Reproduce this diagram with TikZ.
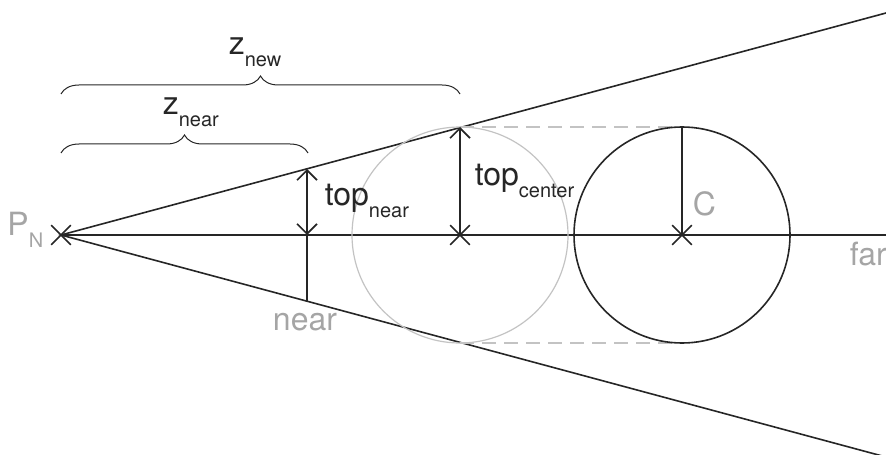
\documentclass[tikz,border=0pt]{standalone}
\usepackage{fontspec}
\setmainfont{TeX Gyre Heros}
\usetikzlibrary{arrows.meta,shapes.misc,decorations.pathreplacing}
\definecolor{labelgrey}{RGB}{165,165,165}
\definecolor{circgrey}{RGB}{195,195,195}
\newcommand{\lowsub}[1]{\raisebox{-6pt}{\fontsize{10}{12}\selectfont #1}}
\tikzset{
  crossmark/.style={cross out,draw,minimum size=9pt,inner sep=0pt},
  lbl/.style={font=\fontsize{16}{18}\selectfont,inner sep=0pt,text=black!85},
  greylbl/.style={lbl,text=labelgrey},
  dim/.style={{Straight Barb[length=5pt,width=10pt]}-{Straight Barb[length=5pt,width=10pt]}},
  dimtip/.style={-{Straight Barb[length=5pt,width=10pt]}},
  bracket/.style={decorate,decoration={brace,amplitude=9pt},line width=0.5pt},
  dashline/.style={circgrey,dash pattern=on 7pt off 4pt}
}

\begin{document}
\begin{tikzpicture}[x=0.5pt,y=-0.5pt,line width=0.8pt,black!85]
    \def\r{108}
    \useasboundingbox (0,0) rectangle (886,454);
    % points on the axis
    \node[crossmark] (P) at (61,235) {};
    \node[crossmark] (M) at (460,235) {};
    \node[crossmark] (C) at (682,235) {};
    \coordinate (far) at (886,235);
    \coordinate (upend) at (886,13);
    \coordinate (lowend) at (886,457);
    \coordinate (ntop) at (307,169);
    \coordinate (nax) at (307,235);
    \coordinate (nbot) at (307,301);
    \coordinate (mtop) at (460,127);
    \coordinate (ctop) at (682,127);
    \coordinate (mbot) at (460,343);
    \coordinate (cbot) at (682,343);
    % frustum and axis
    \draw (upend) -- (P.center) -- (lowend);
    \draw (P.center) -- (far);
    % spheres
    \draw[circgrey,line width=0.6pt] (M.center) circle (\r);
    \draw[dashline] (mtop) -- (ctop) (mbot) -- (cbot);
    \draw (C.center) circle (\r);
    \draw (C.center) -- (ctop);
    % heights
    \draw[dim] (ntop) -- (nax);
    \draw (nax) -- (nbot);
    \draw[dimtip] (M.center) -- (mtop);
    % distances
    \draw[bracket] (61,153) -- (308,153);
    \draw[bracket] (61,94) -- (460,94);
    % labels
    \node[greylbl,anchor=base east] (pn) at (44,235) {P\lowsub{N}};
    \node[greylbl,anchor=base] (nearlbl) at (305,330) {near};
    \node[greylbl,anchor=base west] (farlbl) at (849,265) {far};
    \node[greylbl,anchor=base west] (clbl) at (692,215) {C};
    \node[lbl,anchor=base west] (topnear) at (324,205) {top\lowsub{near}};
    \node[lbl,anchor=base west] (topcenter) at (474,185) {top\lowsub{center}};
    \node[lbl,anchor=base west] (znear) at (162,115) {z\lowsub{near}};
    \node[lbl,anchor=base west] (znew) at (228,55) {z\lowsub{new}};
\end{tikzpicture}
\end{document}
